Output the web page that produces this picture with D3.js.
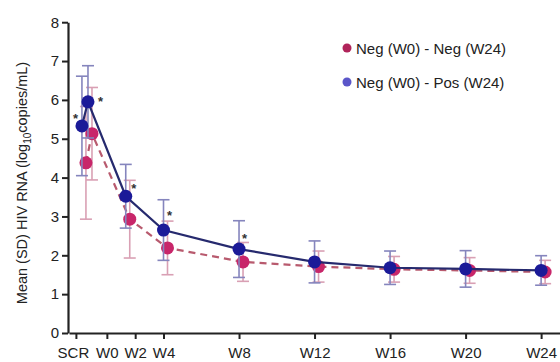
<!DOCTYPE html>
<html><head><meta charset="utf-8">
<script src="https://cdn.jsdelivr.net/npm/d3@7"></script>
<style>body{margin:0;background:#fff}svg{display:block;font-family:"Liberation Sans",Arial,sans-serif}</style>
</head><body><svg id="c" width="560" height="362"></svg>
<script>
// Data (weeks; SCR plotted just before W0)
const weeks = [-0.32, 0, 2, 4, 8, 12, 16, 20, 24];
const negNegMean = [4.38, 5.13, 2.93, 2.19, 1.83, 1.71, 1.64, 1.61, 1.57];
const negNegSD   = [1.45, 1.19, 1.00, 0.69, 0.50, 0.40, 0.33, 0.33, 0.30];
const negPosMean = [5.33, 5.95, 3.52, 2.65, 2.16, 1.83, 1.68, 1.65, 1.61];
const negPosSD   = [1.28, 0.93, 0.82, 0.78, 0.73, 0.54, 0.43, 0.47, 0.38];
// significance markers (week, value level)
const sigWeeks  = [-0.32, 0, 2, 4, 8];
const sigLevels = [5.6, 6.03, 3.8, 3.09, 2.52];
const tickWeeks = [-0.64, 1.0, 2.5, 4, 8, 12, 16, 20, 24];
const tickLabels = ["SCR", "W0", "W2", "W4", "W8", "W12", "W16", "W20", "W24"];
const yTicks = [0, 1, 2, 3, 4, 5, 6, 7, 8];
const legendLabels = ["Neg (W0) - Neg (W24)", "Neg (W0) - Pos (W24)"];

const svg = d3.select("#c");
const x = d3.scaleLinear().domain([-1, 25]).range([69.1, 560]);
const y = d3.scaleLinear().domain([0, 8]).range([333, 22.2]);

// axes
const yAxis = svg.append("g").attr("transform", "translate(68,0)")
  .call(d3.axisLeft(y).tickValues(yTicks).tickSize(6).tickPadding(3).tickSizeOuter(0));
const xAxis = svg.append("g").attr("transform", "translate(0,333)")
  .call(d3.axisBottom(x).tickValues(tickWeeks).tickFormat((d,i)=>tickLabels[i]).tickSize(6).tickPadding(8.5).tickSizeOuter(0));
[yAxis, xAxis].forEach(a => {
  a.select(".domain").attr("stroke", "#222").attr("stroke-width", 2.2);
  a.selectAll(".tick line").attr("stroke", "#222").attr("stroke-width", 2);
  a.selectAll(".tick text").attr("fill", "#222").attr("font-size", 15).attr("font-family", "Liberation Sans, Arial, sans-serif");
});
xAxis.select(".tick text").attr("dx", -3);

// y title
const t = svg.append("text").attr("transform", "translate(27,183) rotate(-90)")
  .attr("text-anchor", "middle").attr("font-size", 14.5).attr("fill", "#222");
t.append("tspan").text("Mean (SD) HIV RNA (log");
t.append("tspan").attr("font-size", 10).attr("dy", 4).text("10");
t.append("tspan").attr("dy", -4).text("copies/mL)");

function series(mean, sd, dx, pointCol, lineCol, barCol, dash) {
  const g = svg.append("g");
  const data = weeks.map((w, i) => ({w, m: mean[i], s: sd[i]}));
  const px = d => x(d.w) + dx;
  const eb = g.selectAll(".eb").data(data).enter().append("g").attr("stroke", barCol).attr("stroke-width", 1.6);
  eb.append("line").attr("x1", px).attr("x2", px).attr("y1", d => y(d.m + d.s)).attr("y2", d => y(d.m - d.s));
  eb.append("line").attr("x1", d => px(d) - 6).attr("x2", d => px(d) + 6).attr("y1", d => y(d.m + d.s)).attr("y2", d => y(d.m + d.s));
  eb.append("line").attr("x1", d => px(d) - 6).attr("x2", d => px(d) + 6).attr("y1", d => y(d.m - d.s)).attr("y2", d => y(d.m - d.s));
  return {g, data, px, pointCol, lineCol, dash};
}
const pink = series(negNegMean, negNegSD, 4, "#c8266a", "#b85a6e", "#d9a0b4", "7,5");
const blue = series(negPosMean, negPosSD, 0, "#1b1a98", "#262a6e", "#8585bd", null);
[pink, blue].forEach(s => {
  const line = d3.line().x(s.px).y(d => y(d.m));
  s.g.append("path").datum(s.data).attr("d", line).attr("fill", "none")
    .attr("stroke", s.lineCol).attr("stroke-width", 2.2).attr("stroke-dasharray", s.dash);
});
[pink, blue].forEach(s => {
  s.g.selectAll("circle").data(s.data).enter().append("circle")
    .attr("cx", s.px).attr("cy", d => y(d.m)).attr("r", 6.5).attr("fill", s.pointCol);
});

// significance markers
const sigDx = [-6.5, 12.5, 8, 6, 5.5];
svg.selectAll(".sig").data(sigWeeks).enter().append("text")
  .attr("x", (d, i) => x(d) + sigDx[i])
  .attr("y", (d, i) => y(sigLevels[i]) + 7.5)
  .attr("text-anchor", "middle").attr("font-size", 13).attr("font-weight", "bold").attr("fill", "#333").text("*");

// legend
const legCols = ["#b0245a", "#5b56c9"];
const lg = svg.selectAll(".lg").data(legendLabels).enter().append("g")
  .attr("transform", (d, i) => `translate(347,${48 + i * 34})`);
lg.append("circle").attr("r", 4.5).attr("fill", (d, i) => legCols[i]);
lg.append("text").attr("x", 9).attr("y", 5.5).attr("font-size", 15).attr("fill", "#222").text(d => d);
</script></body></html>
